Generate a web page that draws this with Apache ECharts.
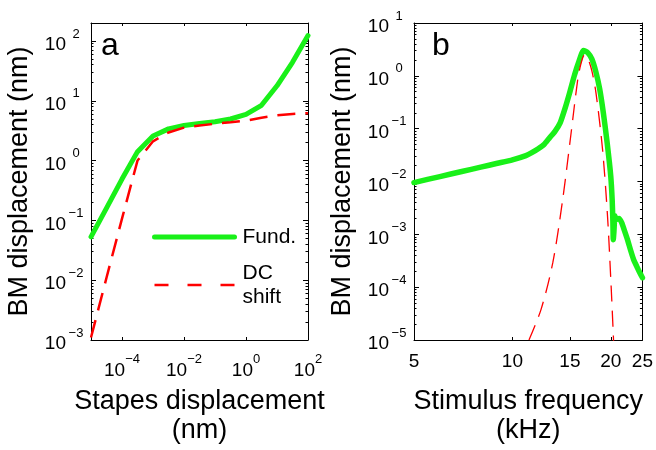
<!DOCTYPE html>
<html>
<head>
<meta charset="utf-8">
<script src="https://cdn.jsdelivr.net/npm/echarts@6/dist/echarts.min.js"></script>
<style>
html,body{margin:0;padding:0;background:#fff;}
#chart{width:656px;height:450px;}
</style>
</head>
<body>
<div id="chart"></div>
<script>
// ---------- Panel a: BM displacement vs stapes displacement ----------
const stapesNm = [1e-5, 3.162e-5, 1e-4, 3.162e-4, 1e-3, 3.162e-3, 1e-2, 3.162e-2, 1e-1, 3.162e-1, 1, 3.162, 10, 31.62, 100];
const fundA    = [0.053, 0.16, 0.49, 1.41, 2.58, 3.39, 3.85, 4.17, 4.47, 4.95, 5.9, 8.4, 17.8, 44, 123];
const dcShiftA = [1.1e-3, 0.011, 0.107, 1.0, 2.1, 2.95, 3.55, 3.85, 4.12, 4.37, 4.65, 5.2, 5.7, 6.0, 6.2];

// ---------- Panel b: BM displacement vs stimulus frequency ----------
const freqFund = [5, 6, 7, 8, 9, 10, 11, 11.5, 12, 12.5, 13, 13.5, 14, 14.5, 15, 15.5, 16, 16.5, 17, 17.5,
                  18, 18.5, 19, 19.5, 20, 20.2, 20.3, 20.36, 20.45, 20.6, 20.8, 21.2, 21.6, 22, 22.5, 23, 23.5, 24, 24.5, 25];
const fundB    = [0.00955, 0.01239, 0.01545, 0.0187, 0.0221, 0.0257, 0.0309, 0.0355, 0.0417, 0.0501, 0.0676, 0.0891,
                  0.129, 0.245, 0.501, 1.05, 1.91, 3.02, 2.75, 2.09, 1.20, 0.562, 0.191, 0.0537, 0.0126, 0.00447,
                  0.00178, 0.000794, 0.00112, 0.00224, 0.00191, 0.00200, 0.00166, 0.00120, 0.000794, 0.000501,
                  0.000331, 0.000251, 0.000191, 0.000151];
const freqDc   = [11.24, 12.24, 13.29, 14.25, 15.12, 15.84, 16.2, 16.6, 17.0, 17.5, 18.03, 18.88, 19.55, 20.03, 20.35, 20.4];
const dcShiftB = [1e-5, 3.8e-5, 2.88e-4, 4.52e-3, 0.0818, 0.83, 1.66, 2.45, 2.14, 1.26, 0.466, 0.0398, 2.19e-3, 1.2e-4, 1.38e-5, 9.5e-6];

// ---------- Tick values ----------
const aXTicks = [1e-4, 1e-2, 1, 100];
const aYTicks = [1e-3, 1e-2, 1e-1, 1, 10, 100];
const bXTicks = [5, 10, 15, 20, 25];
const bYTicks = [1e-5, 1e-4, 1e-3, 1e-2, 1e-1, 1, 10];

const seriesNames = ['Fund.', 'DC shift'];
const titlesA = ['Stapes displacement\n(nm)', 'BM displacement (nm)'];
const titlesB = ['Stimulus frequency\n(kHz)', 'BM displacement (nm)'];
const panelLetters = ['a', 'b'];

const GREEN = '#19f019';
const RED = '#ff0000';
const FONT = "'Liberation Sans', Arial, Helvetica, sans-serif";

function minorTicks(lo, hi) {
  const out = [];
  for (let e = lo; e <= hi; e++) {
    for (let m = 2; m <= 9; m++) out.push(+(m * Math.pow(10, e)).toPrecision(3));
  }
  return out;
}
const aYMinor = minorTicks(-3, 2).filter(v => v <= 199);
const bYMinor = minorTicks(-5, 0);

function powLabel(v) {
  const e = Math.round(Math.log10(v));
  const s = e < 0 ? '\u2212' + (-e) : String(e);
  return '{b|10}{e|' + s + '}';
}
const richY = {
  b: {fontSize: 19, fontFamily: FONT, color: '#000', verticalAlign: 'bottom', lineHeight: 27},
  e: {fontSize: 13, fontFamily: FONT, color: '#000', verticalAlign: 'top', lineHeight: 14,
      width: 20, align: 'left'}
};
const richX = {
  b: {fontSize: 19, fontFamily: FONT, color: '#000', verticalAlign: 'bottom', lineHeight: 27},
  e: {fontSize: 13, fontFamily: FONT, color: '#000', verticalAlign: 'top', lineHeight: 14}
};
const nameStyle = {fontSize: 27, fontFamily: FONT, color: '#000', lineHeight: 29};
const axisLine = {show: true, lineStyle: {color: '#000', width: 1}};

function xAx(grid, pos, min, max, ticks, labelCfg, name) {
  return {
    type: 'log', gridIndex: grid, position: pos, min: min, max: max,
    axisLine: axisLine,
    axisTick: {show: true, inside: true, length: 3, customValues: ticks, lineStyle: {color: '#000'}},
    axisLabel: labelCfg ? Object.assign({show: true, customValues: ticks, hideOverlap: false}, labelCfg) : {show: false},
    splitLine: {show: false}, minorTick: {show: false},
    name: name || '', nameLocation: 'middle', nameGap: 47, nameTextStyle: nameStyle
  };
}
function yAx(grid, pos, min, max, ticks, len, showLine, labelCfg, name) {
  return {
    type: 'log', gridIndex: grid, position: pos, min: min, max: max,
    axisLine: showLine ? axisLine : {show: false},
    axisTick: {show: true, inside: true, length: len, customValues: ticks, lineStyle: {color: '#000'}},
    axisLabel: labelCfg ? Object.assign({show: true, customValues: ticks, hideOverlap: false}, labelCfg) : {show: false},
    splitLine: {show: false}, minorTick: {show: false},
    name: name || '', nameLocation: 'middle', nameGap: 57, nameTextStyle: nameStyle
  };
}

const A_YMAX = 199.5;

const option = {
  animation: false,
  backgroundColor: '#fff',
  textStyle: {fontFamily: FONT},
  title: [
    {text: panelLetters[0], left: 101, top: 30, padding: 0,
     textStyle: {fontSize: 32, fontWeight: 'normal', fontFamily: FONT, color: '#000'}},
    {text: panelLetters[1], left: 432, top: 30, padding: 0,
     textStyle: {fontSize: 32, fontWeight: 'normal', fontFamily: FONT, color: '#000'}}
  ],
  grid: [
    {left: 91, top: 23, width: 217, height: 318, containLabel: false},
    {left: 414, top: 23, width: 228.5, height: 318, containLabel: false}
  ],
  legend: {
    orient: 'vertical', left: 147, top: 220, padding: 5,
    itemWidth: 80, itemHeight: 14, itemGap: 12, selectedMode: false,
    textStyle: {fontSize: 21, fontFamily: FONT, color: '#000', lineHeight: 24, padding: [0, 0, 0, 3]},
    formatter: n => n === 'DC shift' ? 'DC\nshift' : n,
    data: [
      {name: seriesNames[0], itemStyle: {opacity: 0}, lineStyle: {width: 5, color: GREEN}},
      {name: seriesNames[1], itemStyle: {opacity: 0}, lineStyle: {width: 2.5, color: RED, type: [14, 19]}}
    ]
  },
  xAxis: [
    xAx(0, 'bottom', 1e-5, 100, aXTicks, {formatter: powLabel, rich: richX, margin: 13}, titlesA[0]),
    xAx(0, 'top', 1e-5, 100, aXTicks, null),
    xAx(1, 'bottom', 5, 25, bXTicks, {formatter: v => String(Math.round(v)), fontSize: 19, fontFamily: FONT, color: '#000', margin: 12}, titlesB[0]),
    xAx(1, 'top', 5, 25, bXTicks, null)
  ],
  yAxis: [
    yAx(0, 'left', 1e-3, A_YMAX, aYTicks, 5, true, {formatter: powLabel, rich: richY, margin: 5}, titlesA[1]),
    yAx(0, 'right', 1e-3, A_YMAX, aYTicks, 5, true, null),
    yAx(0, 'left', 1e-3, A_YMAX, aYMinor, 2.5, false, null),
    yAx(0, 'right', 1e-3, A_YMAX, aYMinor, 2.5, false, null),
    yAx(1, 'left', 1e-5, 10, bYTicks, 5, true, {formatter: powLabel, rich: richY, margin: 5}, titlesB[1]),
    yAx(1, 'right', 1e-5, 10, bYTicks, 5, true, null),
    yAx(1, 'left', 1e-5, 10, bYMinor, 2.5, false, null),
    yAx(1, 'right', 1e-5, 10, bYMinor, 2.5, false, null)
  ],
  series: [
    {name: seriesNames[0], type: 'line', xAxisIndex: 0, yAxisIndex: 0, symbol: 'none', showSymbol: false,
     data: stapesNm.map((x, i) => [x, fundA[i]]), clip: true, z: 3,
     lineStyle: {color: GREEN, width: 5, cap: 'round', join: 'round'}, itemStyle: {color: GREEN}},
    {name: seriesNames[1], type: 'line', xAxisIndex: 0, yAxisIndex: 0, symbol: 'none', showSymbol: false,
     data: stapesNm.map((x, i) => [x, dcShiftA[i]]), clip: true, z: 4,
     lineStyle: {color: RED, width: 2.5, type: [18, 10]}, itemStyle: {color: RED}},
    {name: 'Fund. (b)', type: 'line', xAxisIndex: 2, yAxisIndex: 4, symbol: 'none', showSymbol: false,
     data: freqFund.map((x, i) => [x, fundB[i]]), clip: true, smooth: 0.2, z: 3,
     lineStyle: {color: GREEN, width: 5.5, cap: 'round', join: 'round'}, itemStyle: {color: GREEN}},
    {name: 'DC shift (b)', type: 'line', xAxisIndex: 2, yAxisIndex: 4, symbol: 'none', showSymbol: false,
     data: freqDc.map((x, i) => [x, dcShiftB[i]]), clip: true, smooth: 0.3, z: 4,
     lineStyle: {color: RED, width: 1.3, type: [16, 9]}, itemStyle: {color: RED}}
  ]
};

const chart = echarts.init(document.getElementById('chart'), null, {renderer: 'canvas'});
chart.setOption(option);
</script>
</body>
</html>
